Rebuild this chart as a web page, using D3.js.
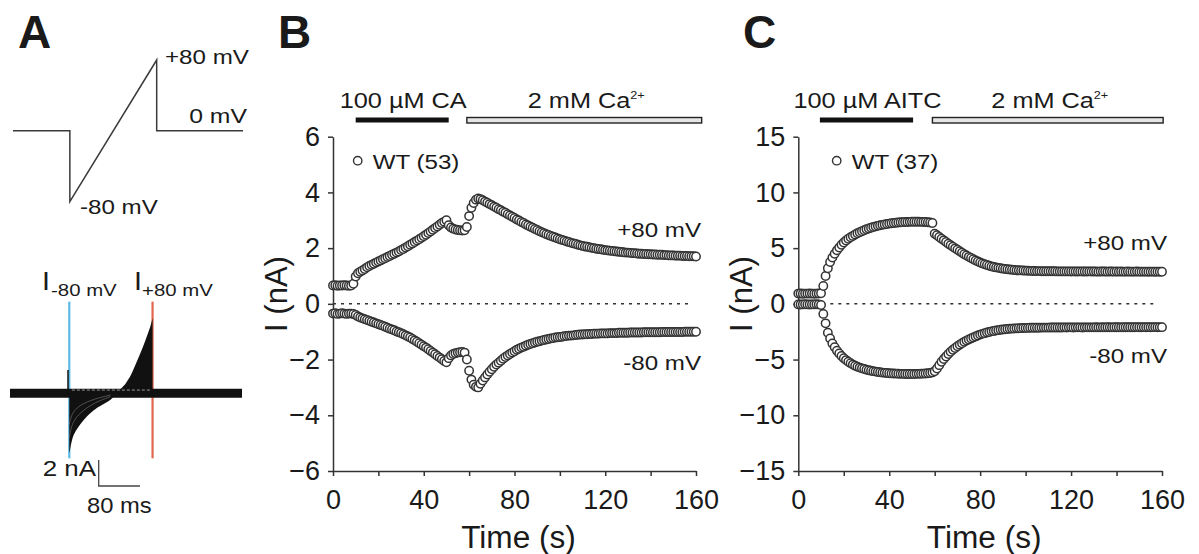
<!DOCTYPE html>
<html>
<head>
<meta charset="utf-8">
<script src="https://cdn.jsdelivr.net/npm/d3@7"></script>
<style>
  body { margin: 0; background: #fff; }
  svg { display: block; font-family: "Liberation Sans", Arial, sans-serif; }
</style>
</head>
<body>
<svg id="fig" width="1199" height="554"></svg>
<script>
// ---- panel A: voltage protocol (ms, mV) ----
var protocolT = [0, 110, 110, 278, 278, 445];
var protocolV = [0, 0, -80, 80, 0, 0];

// ---- panel A: current traces during the ramp (ms, nA) ----
var rampT     = [115, 116, 118, 121, 125, 130, 136, 143, 150, 158, 166, 175, 185, 195, 207, 215, 225, 235, 245, 255, 262, 268, 273, 276.5];
var rampOuter = [-4.6, -4.45, -4.0, -3.5, -3.1, -2.75, -2.4, -2.05, -1.75, -1.45, -1.2, -0.98, -0.75, -0.5, 0, 0.35, 0.8, 1.45, 2.35, 3.3, 4.0, 4.65, 5.25, 5.8];
var rampInner = [0, 0, 0, 0, 0, 0, 0, 0, 0, 0, 0, 0, 0, 0, 0, 0, 0, 0, 0, 0, 0, 0, 0, 0];
var rampMid1  = [-3.4, -3.2, -2.8, -2.4, -2.1, -1.8, -1.55, -1.3, -1.1, -0.9, -0.72, -0.56, -0.4, -0.25, 0, 0.2, 0.45, 0.8, 1.25, 1.8, 2.2, 2.6, 2.95, 3.3];
var rampMid2  = [-2.4, -2.2, -1.9, -1.6, -1.35, -1.15, -0.95, -0.8, -0.66, -0.54, -0.43, -0.33, -0.23, -0.12, 0, 0.1, 0.25, 0.45, 0.7, 1.0, 1.25, 1.5, 1.7, 1.9];
var holdSegments = [[0, 450]];
var sampleMarks = [115, 276.5];          // I-80 / I+80 sample points (ms)

// ---- panel B: 100 uM CA, WT (53); one point per second, 0..160 s ----
var caPos = [
  0.66,0.67,0.65,0.66,0.66,0.67,0.66,0.65,0.66,0.72,
  0.98,1.10,1.15,1.20,1.25,1.31,1.36,1.40,1.44,1.48,
  1.52,1.56,1.60,1.64,1.68,1.72,1.76,1.80,1.84,1.88,
  1.93,1.97,2.02,2.07,2.12,2.17,2.22,2.27,2.32,2.37,
  2.43,2.48,2.54,2.60,2.66,2.72,2.78,2.84,2.90,2.95,
  3.00,2.82,2.74,2.70,2.67,2.65,2.64,2.63,2.64,2.76,
  3.15,3.45,3.62,3.74,3.78,3.76,3.72,3.67,3.63,3.58,
  3.54,3.49,3.45,3.40,3.36,3.31,3.27,3.22,3.17,3.13,
  3.08,3.03,2.99,2.94,2.90,2.85,2.81,2.77,2.73,2.69,
  2.65,2.61,2.57,2.54,2.50,2.47,2.44,2.41,2.38,2.35,
  2.32,2.29,2.27,2.24,2.22,2.19,2.17,2.15,2.12,2.10,
  2.08,2.06,2.05,2.03,2.01,2.00,1.98,1.97,1.96,1.94,
  1.93,1.92,1.91,1.90,1.89,1.88,1.87,1.86,1.85,1.84,
  1.84,1.83,1.82,1.82,1.81,1.80,1.80,1.79,1.79,1.78,
  1.78,1.77,1.77,1.76,1.76,1.76,1.75,1.75,1.74,1.74,
  1.74,1.73,1.73,1.73,1.72,1.72,1.72,1.71,1.71,1.71,
  1.70];
var caNeg = [
  -0.35,-0.34,-0.36,-0.35,-0.34,-0.35,-0.36,-0.35,-0.35,-0.36,
  -0.40,-0.45,-0.49,-0.52,-0.55,-0.58,-0.61,-0.64,-0.67,-0.70,
  -0.73,-0.76,-0.79,-0.82,-0.86,-0.89,-0.92,-0.95,-0.99,-1.02,
  -1.05,-1.09,-1.13,-1.17,-1.21,-1.26,-1.31,-1.36,-1.41,-1.47,
  -1.52,-1.57,-1.63,-1.69,-1.75,-1.81,-1.87,-1.93,-1.99,-2.05,
  -2.10,-1.95,-1.85,-1.80,-1.77,-1.75,-1.74,-1.73,-1.75,-2.00,
  -2.40,-2.72,-2.90,-2.98,-3.00,-2.87,-2.75,-2.64,-2.54,-2.44,
  -2.35,-2.26,-2.18,-2.11,-2.04,-1.97,-1.91,-1.85,-1.80,-1.75,
  -1.70,-1.65,-1.61,-1.57,-1.54,-1.50,-1.47,-1.44,-1.41,-1.39,
  -1.36,-1.34,-1.32,-1.30,-1.28,-1.26,-1.24,-1.23,-1.21,-1.20,
  -1.19,-1.18,-1.16,-1.15,-1.14,-1.14,-1.13,-1.12,-1.11,-1.10,
  -1.10,-1.09,-1.09,-1.08,-1.08,-1.07,-1.07,-1.07,-1.06,-1.06,
  -1.06,-1.06,-1.05,-1.05,-1.05,-1.05,-1.04,-1.04,-1.04,-1.04,
  -1.04,-1.03,-1.03,-1.03,-1.03,-1.03,-1.03,-1.02,-1.02,-1.02,
  -1.02,-1.02,-1.02,-1.02,-1.02,-1.01,-1.01,-1.01,-1.01,-1.01,
  -1.01,-1.01,-1.01,-1.01,-1.01,-1.00,-1.00,-1.00,-1.00,-1.00,
  -1.00];

// ---- panel C: 100 uM AITC, WT (37) ----
var aitcPos = [
  0.92,0.93,0.91,0.92,0.92,0.93,0.92,0.91,0.92,0.93,
  0.95,1.60,2.50,3.20,3.75,4.15,4.50,4.80,5.05,5.30,
  5.50,5.68,5.84,5.98,6.10,6.22,6.33,6.43,6.52,6.61,
  6.69,6.76,6.83,6.89,6.95,7.00,7.05,7.09,7.13,7.17,
  7.20,7.23,7.26,7.28,7.30,7.32,7.33,7.34,7.35,7.36,
  7.37,7.37,7.37,7.37,7.36,7.35,7.34,7.32,7.30,7.25,
  6.30,6.15,6.00,5.85,5.70,5.55,5.40,5.26,5.12,4.98,
  4.85,4.72,4.59,4.46,4.34,4.22,4.11,4.00,3.90,3.80,
  3.71,3.63,3.55,3.48,3.42,3.36,3.31,3.27,3.23,3.19,
  3.16,3.13,3.10,3.08,3.06,3.04,3.02,3.01,3.00,2.99,
  2.98,2.97,2.96,2.95,2.95,2.94,2.94,2.93,2.93,2.93,
  2.92,2.92,2.92,2.92,2.91,2.91,2.91,2.91,2.91,2.91,
  2.90,2.91,2.90,2.90,2.91,2.90,2.90,2.90,2.91,2.90,
  2.90,2.90,2.89,2.90,2.90,2.90,2.89,2.90,2.90,2.89,
  2.90,2.89,2.90,2.89,2.89,2.90,2.89,2.89,2.89,2.90,
  2.89,2.89,2.89,2.89,2.88,2.89,2.89,2.88,2.89,2.88,
  2.88];
var aitcNeg = [
  -0.05,-0.06,-0.05,-0.04,-0.05,-0.06,-0.05,-0.05,-0.04,-0.05,
  -0.10,-0.90,-1.75,-2.60,-3.10,-3.55,-3.90,-4.20,-4.45,-4.68,
  -4.88,-5.05,-5.20,-5.33,-5.45,-5.55,-5.64,-5.72,-5.79,-5.85,
  -5.91,-5.96,-6.00,-6.04,-6.08,-6.11,-6.14,-6.17,-6.19,-6.21,
  -6.23,-6.24,-6.25,-6.26,-6.27,-6.28,-6.28,-6.29,-6.29,-6.29,
  -6.29,-6.29,-6.28,-6.28,-6.27,-6.26,-6.25,-6.23,-6.20,-6.15,
  -6.05,-5.80,-5.50,-5.20,-4.95,-4.72,-4.50,-4.30,-4.12,-3.96,
  -3.80,-3.66,-3.53,-3.41,-3.30,-3.20,-3.10,-3.01,-2.92,-2.84,
  -2.76,-2.69,-2.63,-2.57,-2.52,-2.47,-2.43,-2.39,-2.36,-2.33,
  -2.30,-2.28,-2.26,-2.24,-2.22,-2.21,-2.20,-2.19,-2.18,-2.17,
  -2.16,-2.16,-2.15,-2.15,-2.14,-2.14,-2.14,-2.13,-2.13,-2.13,
  -2.13,-2.12,-2.12,-2.12,-2.12,-2.12,-2.12,-2.11,-2.12,-2.11,
  -2.11,-2.12,-2.11,-2.11,-2.11,-2.12,-2.11,-2.11,-2.11,-2.11,
  -2.11,-2.10,-2.11,-2.11,-2.10,-2.11,-2.10,-2.10,-2.11,-2.10,
  -2.10,-2.10,-2.11,-2.10,-2.10,-2.10,-2.10,-2.10,-2.10,-2.09,
  -2.10,-2.10,-2.09,-2.10,-2.09,-2.10,-2.09,-2.09,-2.10,-2.09,
  -2.09];

var timeTicks = [0, 20, 40, 60, 80, 100, 120, 140, 160];
var caTicks = [-6, -4, -2, 0, 2, 4, 6];
var aitcTicks = [-15, -10, -5, 0, 5, 10, 15];

var svg = d3.select("#fig");
var ink = "#1a1a1a";
var axisCol = "#333";

// text, stretched a bit sideways like the original figure
function txt(g, x, y, s, size, anchor, sx) {
  return g.append("text")
    .attr("transform", "translate(" + x + "," + y + ") scale(" + (sx || 1) + ",1)")
    .attr("text-anchor", anchor || "start")
    .style("font-size", size + "px")
    .style("fill", ink)
    .text(s);
}

function caText(g, x, y, anchor) {
  var t = txt(g, x, y, "2 mM Ca", 22, anchor, 1.15);
  t.append("tspan").attr("dy", -9).style("font-size", "11px").text("2+");
  return t;
}

// ================= panel A =================
(function panelA() {
  var g = svg.append("g");
  g.append("text").attr("x", 18).attr("y", 48)
    .style("font-size", "46px").style("font-weight", "bold").style("fill", ink).text("A");

  var xP = d3.scaleLinear().domain([0, 445]).range([13, 243]);
  var yP = d3.scaleLinear().domain([-80, 80]).range([201.7, 60]);
  var proto = d3.line().x(function(d, i) { return xP(protocolT[i]); })
                        .y(function(d) { return yP(d); });
  g.append("path").attr("d", proto(protocolV))
    .attr("fill", "none").attr("stroke", "#3a3a3a").attr("stroke-width", 1.5);

  txt(g, 165, 64, "+80 mV", 21, "start", 1.15);
  txt(g, 247, 123, "0 mV", 21, "end", 1.18);
  txt(g, 80, 214, "-80 mV", 21, "start", 1.15);

  // current traces
  var xT = d3.scaleLinear().domain([0, 450]).range([10, 242]);
  var yT = d3.scaleLinear().domain([-2, 2]).range([419.3, 367.3]);

  g.selectAll(".mark").data(sampleMarks).enter().append("line")
    .attr("x1", function(d) { return xT(d); }).attr("x2", function(d) { return xT(d); })
    .attr("y1", yT(7.05)).attr("y2", yT(-5.0))
    .attr("stroke", function(d, i) { return i === 0 ? "#5bb9e6" : "#e2654c"; })
    .attr("stroke-width", 2.2);

  var hold = d3.line().x(function(d) { return xT(d); }).y(yT(0));
  holdSegments.forEach(function(s) {
    g.append("path").attr("d", hold(s)).attr("stroke", "#111")
      .attr("stroke-width", 9).attr("fill", "none");
  });

  var fam = d3.area()
    .x(function(d, i) { return xT(rampT[i]); })
    .y0(function(d) { return yT(d); })
    .y1(function(d, i) { return yT(rampInner[i]); })
    .curve(d3.curveMonotoneX);
  g.append("path").attr("d", fam(rampOuter)).attr("fill", "#111");

  // a couple of the smaller sweeps show through as grey streaks
  var sweep = d3.line().x(function(d, i) { return xT(rampT[i]); })
    .y(function(d) { return yT(d); }).curve(d3.curveMonotoneX);
  [rampMid1, rampMid2].forEach(function(s) {
    g.append("path").attr("d", sweep(s.slice(0, 14))).attr("fill", "none")
      .attr("stroke", "#6a6a6a").attr("stroke-width", 0.7);
  });

  // capacitive blip at the step
  g.append("line").attr("x1", xT(112.5)).attr("x2", xT(112.5))
    .attr("y1", yT(0)).attr("y2", yT(1.8)).attr("stroke", "#111").attr("stroke-width", 1.5);

  g.append("line").attr("x1", xT(120)).attr("x2", xT(275))
    .attr("y1", yT(0.25)).attr("y2", yT(0.25))
    .attr("stroke", "#999").attr("stroke-width", 1).attr("stroke-dasharray", "3,2");

  // labels I-80 mV / I+80 mV
  txt(g, 42, 290, "I", 26, "start", 1.1);
  txt(g, 51, 296, "-80 mV", 17, "start", 1.2);
  txt(g, 134, 290, "I", 26, "start", 1.1);
  txt(g, 142, 296, "+80 mV", 17, "start", 1.2);

  // scale bar 2 nA / 80 ms
  var sbX = 98.7, sbY = 486;
  var sbLen = yT(0) - yT(2), sbW = xT(80) - xT(0);
  g.append("path")
    .attr("d", "M" + sbX + "," + (sbY - sbLen) + "V" + sbY + "H" + (sbX + sbW))
    .attr("fill", "none").attr("stroke", "#444").attr("stroke-width", 1.3);
  txt(g, 96, 476, "2 nA", 22, "end", 1.18);
  txt(g, 87, 513, "80 ms", 22, "start", 1.08);
})();

// ================= panels B and C =================
function drawPanel(o) {
  var g = svg.append("g");
  var x = d3.scaleLinear().domain([0, 160]).range([o.x0, o.x1]);
  var y = d3.scaleLinear().domain(o.yDomain).range([471, 136.7]);

  g.append("text").attr("x", o.letterX).attr("y", 48)
    .style("font-size", "46px").style("font-weight", "bold").style("fill", ink).text(o.letter);

  // application bars
  g.append("rect").attr("x", x(o.drugBar[0])).attr("y", 117.5)
    .attr("width", x(o.drugBar[1]) - x(o.drugBar[0])).attr("height", 5).attr("fill", "#111");
  g.append("rect").attr("x", x(o.caBar[0])).attr("y", 117.5)
    .attr("width", x(o.caBar[1]) - x(o.caBar[0])).attr("height", 5.5)
    .attr("fill", "#e6e6e6").attr("stroke", "#222").attr("stroke-width", 1.4);
  txt(g, (x(o.drugBar[0]) + x(o.drugBar[1])) / 2 + 1, 108, o.drug, 22, "middle", 1.15);
  caText(g, (x(o.caBar[0]) + x(o.caBar[1])) / 2 + 2, 108, "middle");

  // axes
  var yAxis = d3.axisLeft(y).tickValues(o.yTicks).tickSize(5).tickSizeOuter(0).tickPadding(8);
  var xAxis = d3.axisBottom(x).tickValues(timeTicks).tickSize(5).tickSizeOuter(0).tickPadding(14)
    .tickFormat(function(d) { return d % 40 === 0 ? d : ""; });
  [g.append("g").attr("transform", "translate(" + o.x0 + ",0)").call(yAxis),
   g.append("g").attr("transform", "translate(0,471)").call(xAxis)].forEach(function(a) {
    a.attr("font-family", null).attr("font-size", null);
    a.selectAll("path, line").attr("stroke", axisCol).attr("stroke-width", 1.5);
    a.selectAll("text").style("font-size", "27px").style("fill", ink);
  });

  // zero line
  g.append("line").attr("x1", x(0)).attr("x2", x(158))
    .attr("y1", y(0)).attr("y2", y(0))
    .attr("stroke", "#333").attr("stroke-width", 1.5).attr("stroke-dasharray", "3,5");

  // titles
  txt(g, (o.x0 + o.x1) / 2 + 4, 548, "Time (s)", 31, "middle", 1.02);
  g.append("text")
    .attr("transform", "translate(" + o.titleX + ",294) rotate(-90)")
    .attr("text-anchor", "middle").style("font-size", "31px").style("fill", ink)
    .text("I (nA)");

  // data points
  [o.pos, o.neg].forEach(function(series) {
    g.append("g").selectAll("circle").data(series).enter().append("circle")
      .attr("cx", function(d, i) { return x(i); })
      .attr("cy", function(d) { return y(d); })
      .attr("r", 4.2)
      .attr("fill", "#fff").attr("stroke", "#333").attr("stroke-width", 1.5);
  });

  // legend
  g.append("circle").attr("cx", o.x0 + o.legendDx).attr("cy", 160.7).attr("r", 4.2)
    .attr("fill", "#fff").attr("stroke", "#333").attr("stroke-width", 1.4);
  txt(g, o.x0 + o.legendDx + 15, 168.5, o.legend, 21, "start", 1.15);

  txt(g, o.x1 + 5, o.posLabelY, "+80 mV", 21, "end", 1.15);
  txt(g, o.x1 + 5, o.negLabelY, "-80 mV", 21, "end", 1.15);
}

drawPanel({
  letter: "B", letterX: 278, x0: 333, x1: 696, titleX: 287,
  yDomain: [-6, 6], yTicks: caTicks, pos: caPos, neg: caNeg,
  drug: "100 µM CA", drugBar: [10, 51], caBar: [59, 162.5],
  legend: "WT (53)", legendDx: 24.7, posLabelY: 237, negLabelY: 370
});

drawPanel({
  letter: "C", letterX: 743, x0: 798.3, x1: 1162, titleX: 752,
  yDomain: [-15, 15], yTicks: aitcTicks, pos: aitcPos, neg: aitcNeg,
  drug: "100 µM AITC", drugBar: [9.5, 50.5], caBar: [59, 160.5],
  legend: "WT (37)", legendDx: 38.4, posLabelY: 250, negLabelY: 363
});
</script>
</body>
</html>
